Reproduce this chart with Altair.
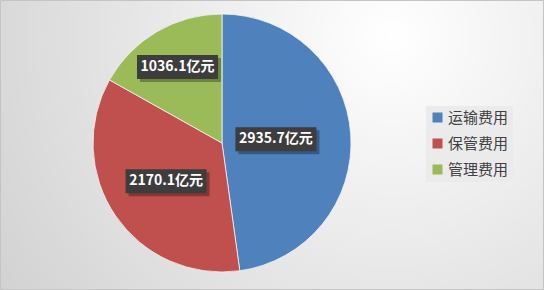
import altair as alt
import pandas as pd

categories = ["运输费用", "保管费用", "管理费用"]
values = [2935.7, 2170.1, 1036.1]
colors = ["#4F81BD", "#C0504D", "#9BBB59"]

df = pd.DataFrame({"cat": categories, "value": values, "order": list(range(len(values)))})

W, H = 544, 290
CX, CY, R = 222, 143, 129
FONT = "Noto Sans CJK SC"

bg = alt.Chart(pd.DataFrame({"a": [0]})).mark_rect(
    color={
        "gradient": "radial",
        "x1": 0.72, "y1": 0.3, "r1": 0,
        "x2": 0.72, "y2": 0.3, "r2": 0.85,
        "stops": [
            {"offset": 0, "color": "#ffffff"},
            {"offset": 1, "color": "#d2d2d2"},
        ],
    },
    stroke="#c4c4c4",
    strokeWidth=1,
).encode(x=alt.value(0.5), x2=alt.value(W - 0.5), y=alt.value(0.5), y2=alt.value(H - 0.5))

base = alt.Chart(df)

pie = base.mark_arc(radius=R, stroke="#f4f4f4", strokeWidth=0.8).encode(
    theta=alt.Theta("value:Q", stack=True),
    color=alt.Color(
        "cat:N",
        scale=alt.Scale(domain=categories, range=colors),
        sort=categories,
        legend=alt.Legend(
            title=None,
            orient="none",
            legendX=426,
            legendY=106,
            fillColor="#ebebeb",
            padding=4,
            symbolType="square",
            symbolSize=100,
            symbolStrokeWidth=0,
            symbolOpacity=1,
            labelFont=FONT,
            labelFontSize=15,
            labelColor="#404040",
            labelOffset=3,
            rowPadding=10,
        ),
    ),
    order=alt.Order("order:Q"),
    x=alt.value(CX),
    y=alt.value(CY),
)

lab = base.transform_joinaggregate(total="sum(value)").transform_window(
    cum="sum(value)", sort=[alt.SortField("order")], frame=[None, 0]
).transform_calculate(
    frac="datum.value/datum.total",
    mid="(datum.cum - datum.value/2)/datum.total*2*PI",
    label="format(datum.value, '.1f') + '亿元'",
).transform_calculate(
    r="106.6 - 110*datum.frac"
).transform_calculate(
    lx=f"{CX} + datum.r*sin(datum.mid)",
    ly=f"{CY} - datum.r*cos(datum.mid)",
)

enc = dict(
    x=alt.X("lx:Q", scale=None, axis=None),
    y=alt.Y("ly:Q", scale=None, axis=None),
)

box_shape = "M-1,-0.296H1V0.296H-1Z"
shadow = lab.mark_point(
    shape=box_shape, size=6561, filled=True, color="#000000", opacity=0.3,
    strokeWidth=0, xOffset=3, yOffset=3,
).encode(**enc)
box = lab.mark_point(
    shape=box_shape, size=6561, filled=True, color="#3d3d3d", opacity=1, strokeWidth=0,
).encode(**enc)
txt = lab.mark_text(
    font=FONT, fontSize=14, fontWeight="bold", color="white", baseline="middle", align="center"
).encode(text="label:N", **enc)

chart = alt.layer(bg, pie, shadow, box, txt).properties(
    width=W, height=H, padding=0, autosize=alt.AutoSizeParams(type="none")
).configure_view(stroke=None).configure(background="#ffffff")

chart.save("out.html", embed_options={"renderer": "svg", "actions": False})
